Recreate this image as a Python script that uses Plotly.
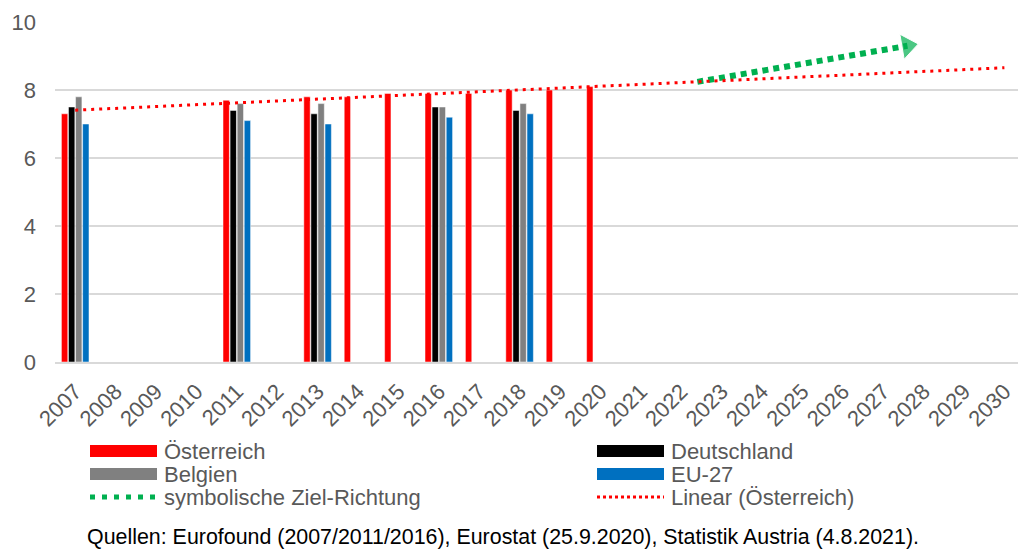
import numpy as np
import plotly.graph_objects as go

# years shown on the category axis
YEARS = list(range(2007, 2031))

# survey values (only years with data)
AT_YEARS = [2007, 2011, 2013, 2014, 2015, 2016, 2017, 2018, 2019, 2020]
AT_VALUES = [7.3, 7.7, 7.8, 7.8, 7.9, 7.9, 7.9, 8.0, 8.0, 8.1]

CMP_YEARS = [2007, 2011, 2013, 2016, 2018]
DE_VALUES = [7.5, 7.4, 7.3, 7.5, 7.4]
BE_VALUES = [7.8, 7.6, 7.6, 7.5, 7.6]
EU_VALUES = [7.0, 7.1, 7.0, 7.2, 7.3]

# symbolic target direction
ZIEL_X = [2022.4, 2027.6]
ZIEL_Y = [8.24, 9.3]

SOURCE = ("Quellen: Eurofound (2007/2011/2016), Eurostat (25.9.2020), "
          "Statistik Austria (4.8.2021).")

FONT = "Liberation Sans, Arial, sans-serif"
GREY_TXT = "#595959"
W, H = 1018, 551
L, R, T, B = 55, 0, 22, 189


def full(years, values):
    """spread values over all years, None where there is no data"""
    lookup = dict(zip(years, values))
    return [lookup.get(y) for y in YEARS]


def px(x):
    return (x - L) / (W - L - R)


def py(y):
    return (H - B - y) / (H - T - B)


fig = go.Figure()

series = [
    ("Österreich", full(AT_YEARS, AT_VALUES), "#ff0000"),
    ("Deutschland", full(CMP_YEARS, DE_VALUES), "#000000"),
    ("Belgien", full(CMP_YEARS, BE_VALUES), "#808080"),
    ("EU-27", full(CMP_YEARS, EU_VALUES), "#0070c0"),
]
for name, vals, col in series:
    fig.add_trace(go.Bar(x=YEARS, y=vals, name=name, marker_color=col,
                         marker_line=dict(color="white", width=0.5),
                         showlegend=False))

# green dotted arrow
fig.add_trace(go.Scatter(
    x=ZIEL_X, y=ZIEL_Y, mode="lines+markers", showlegend=False,
    line=dict(color="#00b050", width=6, dash="6px,5px"),
    marker=dict(symbol=["circle", "triangle-up"], size=[0, 22],
                color="#00b050", angleref="previous"),
))

# linear trend of Austria, extended to 2030
slope, icpt = np.polyfit(AT_YEARS, AT_VALUES, 1)
tx = np.array([AT_YEARS[0], YEARS[-1]])
fig.add_trace(go.Scatter(
    x=tx, y=slope * tx + icpt, mode="lines", showlegend=False,
    line=dict(color="#ff0000", width=3, dash="3px,5px"),
))

# hand-made legend so the swatches look like the original
shapes = []
annos = []
legend = [
    ("Österreich", "bar", "#ff0000", 90, 451),
    ("Deutschland", "bar", "#000000", 597, 451),
    ("Belgien", "bar", "#808080", 90, 474),
    ("EU-27", "bar", "#0070c0", 597, 474),
    ("symbolische Ziel-Richtung", "green", "#00b050", 90, 497),
    ("Linear (Österreich)", "red", "#ff0000", 597, 497),
]
for text, kind, col, x0, yc in legend:
    if kind == "bar":
        shapes.append(dict(type="rect", xref="paper", yref="paper",
                           x0=px(x0), x1=px(x0 + 67), y0=py(yc + 6), y1=py(yc - 6),
                           fillcolor=col, line_width=0))
    elif kind == "green":
        shapes.append(dict(type="line", xref="paper", yref="paper",
                           x0=px(x0), x1=px(x0 + 67), y0=py(yc), y1=py(yc),
                           line=dict(color=col, width=5, dash="5px,7px")))
    else:
        shapes.append(dict(type="line", xref="paper", yref="paper",
                           x0=px(x0), x1=px(x0 + 67), y0=py(yc), y1=py(yc),
                           line=dict(color=col, width=3, dash="3px,3px")))
    annos.append(dict(text=text, xref="paper", yref="paper", x=px(x0 + 73), y=py(yc),
                      xanchor="left", yanchor="middle", showarrow=False, borderpad=0,
                      font=dict(size=22, color=GREY_TXT, family=FONT)))

annos.append(dict(text=SOURCE, xref="paper", yref="paper", x=px(85), y=py(537),
                  xanchor="left", yanchor="middle", showarrow=False,
                  font=dict(size=21.4, color="#000000", family=FONT)))

fig.update_layout(
    width=W, height=H,
    margin=dict(l=L, r=R, t=T, b=B),
    plot_bgcolor="white", paper_bgcolor="white",
    barmode="group", bargap=0.3, bargroupgap=0.1,
    font=dict(family=FONT, color=GREY_TXT),
    shapes=shapes, annotations=annos,
    xaxis=dict(range=[2006.5, 2006.5 + (W - L - R) / 40.4],
               tickvals=YEARS, ticktext=[str(y) for y in YEARS],
               tickangle=-45, tickfont=dict(size=22, color=GREY_TXT),
               showgrid=False, zeroline=False, showline=True,
               linecolor="#d9d9d9", linewidth=2, ticks="", ticklabelstandoff=6),
    yaxis=dict(range=[0, 10], dtick=2, tickfont=dict(size=22, color=GREY_TXT),
               gridcolor="#d9d9d9", gridwidth=1.5, zeroline=False,
               showline=False, ticks="", ticklabelstandoff=18),
)

# drop the browser's default page margin so the figure sits at 0,0
fig.write_html("out.html", config={"displayModeBar": False},
               post_script="document.body.style.margin='0';")
